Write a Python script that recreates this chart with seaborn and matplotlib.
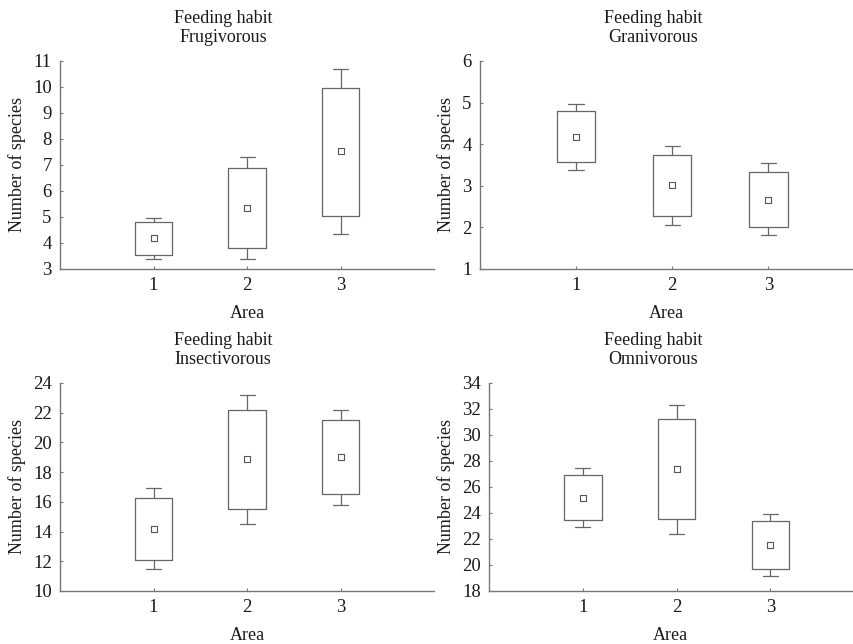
import numpy as np
import pandas as pd
import matplotlib
matplotlib.use("Agg")
import matplotlib.pyplot as plt
import seaborn as sns

# === Dados (por grupo: media, caixa e bigodes)
areas = [1, 2, 3]
habits = ["Frugivorous", "Granivorous", "Insectivorous", "Omnivorous"]

frug_mean = [4.18, 5.34, 7.52]
frug_box_lo = [3.55, 3.82, 5.04]
frug_box_hi = [4.79, 6.87, 9.98]
frug_wh_lo = [3.38, 3.38, 4.34]
frug_wh_hi = [4.96, 7.31, 10.70]

gran_mean = [4.18, 3.01, 2.66]
gran_box_lo = [3.56, 2.27, 2.00]
gran_box_hi = [4.79, 3.74, 3.34]
gran_wh_lo = [3.38, 2.06, 1.81]
gran_wh_hi = [4.97, 3.95, 3.54]

inse_mean = [14.19, 18.87, 19.03]
inse_box_lo = [12.08, 15.49, 16.54]
inse_box_hi = [16.27, 22.21, 21.49]
inse_wh_lo = [11.48, 14.52, 15.82]
inse_wh_hi = [16.90, 23.19, 22.21]

omni_mean = [25.19, 27.37, 21.53]
omni_box_lo = [23.43, 23.50, 19.69]
omni_box_hi = [26.91, 31.21, 23.35]
omni_wh_lo = [22.92, 22.40, 19.13]
omni_wh_hi = [27.45, 32.34, 23.89]

ylims = [(3, 11), (1, 6), (10, 24), (18, 34)]
yticks = [np.arange(3, 12, 1), np.arange(1, 7, 1), np.arange(10, 25, 2), np.arange(18, 35, 2)]

stats = {
    "Frugivorous": (frug_mean, frug_box_lo, frug_box_hi, frug_wh_lo, frug_wh_hi),
    "Granivorous": (gran_mean, gran_box_lo, gran_box_hi, gran_wh_lo, gran_wh_hi),
    "Insectivorous": (inse_mean, inse_box_lo, inse_box_hi, inse_wh_lo, inse_wh_hi),
    "Omnivorous": (omni_mean, omni_box_lo, omni_box_hi, omni_wh_lo, omni_wh_hi),
}

# === Estilo
sns.set_theme(style="ticks")
plt.rcParams["font.family"] = ["Liberation Serif", "DejaVu Serif"]
plt.rcParams["text.color"] = "#1a1a1a"
plt.rcParams["axes.labelcolor"] = "#1a1a1a"
plt.rcParams["xtick.color"] = "#777777"
plt.rcParams["ytick.color"] = "#777777"
plt.rcParams["xtick.labelcolor"] = "#1a1a1a"
plt.rcParams["ytick.labelcolor"] = "#1a1a1a"

fig = plt.figure(figsize=(8.54, 6.44), dpi=100)

# posicoes dos paineis (em fracao da figura)
pos = [
    [0.0703, 0.5823, 0.438, 0.323],
    [0.562, 0.5823, 0.4356, 0.323],
    [0.0703, 0.0823, 0.438, 0.323],
    [0.5726, 0.0823, 0.425, 0.323],
]
xmax = [4.0, 3.87, 4.0, 3.87]
title_x = [0.436, 0.465, 0.436, 0.452]

for i, habit in enumerate(habits):
    mean, blo, bhi, wlo, whi = stats[habit]
    # cinco pontos por area: min, q1, mediana, q3, max -> caixa exata
    rows = []
    for k, a in enumerate(areas):
        for v in [wlo[k], blo[k], mean[k], bhi[k], whi[k]]:
            rows.append({"Area": a, "valor": v})
    df = pd.DataFrame(rows)
    df_mean = pd.DataFrame({"Area": areas, "media": mean})

    ax = fig.add_axes(pos[i])
    sns.boxplot(
        data=df, x="Area", y="valor", native_scale=True, whis=np.inf,
        fill=False, color="#666666", linewidth=0.9, width=0.4,
        medianprops={"linewidth": 0}, capwidths=0.16, ax=ax,
    )
    sns.scatterplot(
        data=df_mean, x="Area", y="media", marker="s", s=14,
        facecolor="white", edgecolor="#555555", linewidth=0.8, ax=ax, zorder=5,
    )
    ax.set_xlim(0, xmax[i])
    ax.set_ylim(*ylims[i])
    ax.set_xticks(areas)
    ax.set_xticklabels([str(a) for a in areas])
    ax.set_yticks(yticks[i])
    ax.tick_params(direction="in", length=2, width=0.8, labelsize=13.5, pad=6)
    for s in ["top", "right"]:
        ax.spines[s].set_visible(False)
    for s in ["left", "bottom"]:
        ax.spines[s].set_color("#777777")
        ax.spines[s].set_linewidth(1.0)
    ax.set_xlabel("Area", fontsize=13, labelpad=8)
    ax.set_ylabel("Number of species", fontsize=13, labelpad=5)
    ax.text(title_x[i], 1.07, "Feeding habit\n" + habit, transform=ax.transAxes,
            ha="center", va="bottom", fontsize=13, linespacing=1.15)

plt.savefig("out.png", dpi=100)
